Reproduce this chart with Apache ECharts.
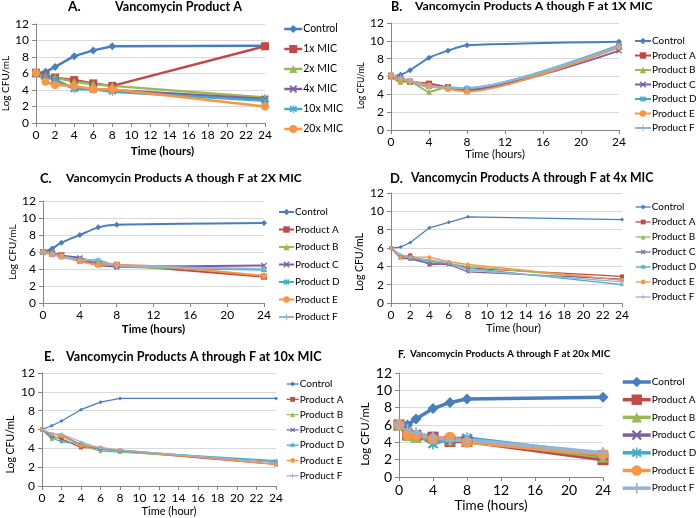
<!DOCTYPE html>
<html><head><meta charset="utf-8">
<script src="https://cdn.jsdelivr.net/npm/echarts@6/dist/echarts.min.js"></script>
<style>html,body{margin:0;padding:0;background:#fff}#c{width:696px;height:518px}</style>
</head><body><div id="c"></div>
<script>
// ---------- DATA ----------
const times = [0, 1, 2, 4, 6, 8, 24];
const namesA = ['Control', '1x MIC', '2x MIC', '4x MIC', '10x MIC', '20x MIC'];
const namesProducts = ['Control', 'Product A', 'Product B', 'Product C', 'Product D', 'Product E', 'Product F'];
const titleLetters = ['A.', 'B.', 'C.', 'D.', 'E.', 'F.'];
const titleTexts = [
  'Vancomycin Product A',
  'Vancomycin Products A though F at 1X MIC',
  'Vancomycin Products A though F at 2X MIC',
  'Vancomycin Products A through F at 4x MIC',
  'Vancomycin Products A through F at 10x MIC',
  'Vancomycin Products A through F at 20x MIC'
];
const xAxisTitles = ['Time (hours)', 'Time (hours)', 'Time (hours)', 'Time (hour)', 'Time (hour)', 'Time (hours)'];
const yAxisTitle = 'Log CFU/mL';

// Panel A: Product A at different MIC multiples
const aControl = [6.0, 6.2, 6.8, 8.1, 8.8, 9.3, 9.35];
const a1x  = [6.1, 5.8, 5.5, 5.2, 4.8, 4.5, 9.3];
const a2x  = [6.0, 5.8, 5.5, 5.0, 4.7, 4.5, 3.1];
const a4x  = [6.0, 5.7, 5.2, 4.2, 4.1, 4.0, 2.9];
const a10x = [6.0, 5.6, 5.3, 4.1, 4.1, 3.8, 2.7];
const a20x = [6.1, 5.0, 4.6, 4.5, 4.1, 4.1, 2.0];

// Panel B: 1X MIC
const bControl = [6.0, 6.2, 6.7, 8.1, 8.9, 9.5, 9.9];
const bProdA = [6.1, 5.7, 5.4, 5.2, 4.8, 4.4, 9.3];
const bProdB = [6.0, 5.4, 5.4, 4.3, 4.8, 4.4, 9.4];
const bProdC = [6.0, 5.8, 5.4, 4.9, 4.7, 4.5, 8.9];
const bProdD = [6.1, 5.7, 5.5, 5.0, 4.7, 4.7, 9.5];
const bProdE = [6.1, 5.7, 5.5, 5.0, 4.6, 4.3, 9.3];
const bProdF = [6.1, 5.9, 5.5, 4.8, 4.8, 4.7, 9.4];

// Panel C: 2X MIC
const cControl = [6.0, 6.4, 7.1, 8.0, 8.9, 9.2, 9.4];
const cProdA = [6.0, 5.8, 5.6, 5.0, 4.6, 4.5, 3.1];
const cProdB = [6.0, 5.9, 5.5, 5.2, 4.9, 4.3, 4.0];
const cProdC = [6.0, 5.9, 5.6, 5.3, 4.5, 4.3, 4.4];
const cProdD = [6.0, 5.8, 5.5, 5.1, 5.0, 4.4, 3.9];
const cProdE = [6.0, 5.7, 5.5, 4.9, 4.5, 4.5, 3.2];
const cProdF = [6.0, 5.8, 5.4, 5.1, 5.0, 4.4, 4.0];

// Panel D: 4x MIC
const dControl = [6.0, 6.1, 6.6, 8.2, 8.8, 9.4, 9.1];
const dProdA = [6.0, 5.0, 5.2, 4.2, 4.3, 3.8, 2.9];
const dProdB = [6.0, 5.1, 4.8, 4.4, 4.3, 4.0, 2.5];
const dProdC = [6.0, 4.9, 4.8, 4.3, 4.2, 3.4, 2.6];
const dProdD = [6.0, 5.1, 4.9, 4.6, 4.3, 3.8, 2.0];
const dProdE = [6.0, 5.0, 5.0, 5.0, 4.5, 4.2, 2.5];
const dProdF = [6.0, 5.3, 5.0, 4.7, 4.4, 3.6, 2.3];

// Panel E: 10x MIC
const eControl = [6.0, 6.4, 6.9, 8.1, 8.9, 9.3, 9.3];
const eProdA = [6.0, 5.3, 5.0, 4.1, 4.0, 3.7, 2.3];
const eProdB = [6.0, 5.0, 5.3, 4.3, 3.7, 3.6, 2.6];
const eProdC = [6.0, 5.5, 5.4, 4.4, 3.9, 3.8, 2.5];
const eProdD = [6.0, 5.1, 4.7, 4.5, 3.9, 3.7, 2.7];
const eProdE = [6.0, 5.5, 5.4, 4.3, 4.1, 3.8, 2.3];
const eProdF = [6.0, 5.5, 5.5, 4.7, 4.0, 3.8, 2.5];

// Panel F: 20x MIC
const fControl = [6.0, 6.0, 6.7, 7.9, 8.6, 9.0, 9.2];
const fProdA = [6.0, 4.9, 4.7, 4.6, 4.1, 4.1, 2.0];
const fProdB = [6.0, 4.8, 4.6, 4.5, 4.3, 4.2, 2.3];
const fProdC = [6.0, 5.0, 4.9, 4.6, 4.3, 4.4, 2.5];
const fProdD = [6.0, 5.2, 4.9, 3.8, 4.4, 4.5, 2.6];
const fProdE = [6.0, 4.9, 4.8, 4.4, 4.6, 4.0, 2.6];
const fProdF = [6.0, 5.5, 5.1, 4.6, 4.2, 4.3, 2.8];

const panelData = [
  [aControl, a1x, a2x, a4x, a10x, a20x],
  [bControl, bProdA, bProdB, bProdC, bProdD, bProdE, bProdF],
  [cControl, cProdA, cProdB, cProdC, cProdD, cProdE, cProdF],
  [dControl, dProdA, dProdB, dProdC, dProdD, dProdE, dProdF],
  [eControl, eProdA, eProdB, eProdC, eProdD, eProdE, eProdF],
  [fControl, fProdA, fProdB, fProdC, fProdD, fProdE, fProdF]
];
const panelNames = [namesA, namesProducts, namesProducts, namesProducts, namesProducts, namesProducts];

// ---------- STYLE / LAYOUT ----------
const colors = ['#4A7EBB', '#BE4B48', '#98B954', '#7D60A0', '#46AAC5', '#F79646', '#95B3D7'];
const xPath = 'path://M0,1.6 L1.6,0 L10,8.4 L8.4,10 Z M8.4,0 L10,1.6 L1.6,10 L0,8.4 Z';
const starPath = 'path://M0,1.6 L1.6,0 L10,8.4 L8.4,10 Z M8.4,0 L10,1.6 L1.6,10 L0,8.4 Z M4.3,-1 L5.7,-1 L5.7,11 L4.3,11 Z';
const plusPath = 'path://M4.2,0 L5.8,0 L5.8,10 L4.2,10 Z M0,4.2 L10,4.2 L10,5.8 L0,5.8 Z';
const symbols = ['diamond', 'rect', 'triangle', xPath, starPath, 'circle', plusPath];

const FONT = 'Lato, "Open Sans", sans-serif';
const layout = [
  { grid: { left: 36, top: 24, width: 229, height: 99 }, xInt: 2, lw: 2.5, ms: 8, smooth: false,
    tick: 12, xName: { gap: 22, pad: [0, 0, 0, 24], size: 11.5, bold: true },
    yName: { gap: 22, size: 10, shift: 10 },
    legend: { left: 283, top: 22, gap: 6, h: 10, w: 18, font: 10.5, lh: 14, lw: 2.5 },
    titleL: { left: 68, top: 0, size: 13.5 }, titleT: { left: 115, top: 0, size: 12.6 } },
  { grid: { left: 391, top: 23, width: 228, height: 107 }, xInt: 4, lw: 2, ms: 6, smooth: true,
    tick: 12, xName: { gap: 18, pad: [0, 20, 0, 0], size: 11, bold: false },
    yName: { gap: 24, size: 8.5, shift: 9 },
    legend: { left: 634, top: 35, gap: 2.5, h: 8, w: 16, font: 10, lh: 12, lw: 2 },
    titleL: { left: 391, top: 0, size: 12.5 }, titleT: { left: 415, top: 0, size: 12.2 } },
  { grid: { left: 43, top: 201, width: 221, height: 102 }, xInt: 4, lw: 2, ms: 6, smooth: true,
    tick: 12, xName: { gap: 20, pad: [0, 0, 0, 0], size: 11.5, bold: true },
    yName: { gap: 24, size: 10, shift: 0 },
    legend: { left: 278, top: 205.5, gap: 4.5, h: 8, w: 15, font: 10, lh: 13, lw: 2 },
    titleL: { left: 40, top: 172, size: 13 }, titleT: { left: 66, top: 172, size: 12.1 } },
  { grid: { left: 391, top: 193, width: 231, height: 110 }, xInt: 2, lw: 1.3, ms: 4, smooth: false,
    tick: 12, xName: { gap: 20, pad: [0, 0, 0, 14], size: 11, bold: false },
    yName: { gap: 26, size: 10.5, shift: 14 },
    legend: { left: 635, top: 201, gap: 3, h: 6, w: 15, font: 10, lh: 12, lw: 1.3 },
    titleL: { left: 390, top: 172, size: 13 }, titleT: { left: 411, top: 172, size: 12.3 } },
  { grid: { left: 42, top: 373, width: 234, height: 113 }, xInt: 2, lw: 1.3, ms: 4, smooth: false,
    tick: 12, xName: { gap: 20, pad: [0, 0, 0, 20], size: 11, bold: false },
    yName: { gap: 26, size: 10.5, shift: 15 },
    legend: { left: 286, top: 378, gap: 3.3, h: 6, w: 12, font: 10, lh: 12, lw: 1.3 },
    titleL: { left: 44, top: 350, size: 13 }, titleT: { left: 66, top: 350, size: 12.6 } },
  { grid: { left: 399, top: 373, width: 204, height: 104 }, xInt: 4, lw: 3.5, ms: 11, smooth: false,
    tick: 14, xName: { gap: 22, pad: [0, 20, 0, 0], size: 13.5, bold: false },
    yName: { gap: 28, size: 11.5, shift: 9 },
    legend: { left: 621, top: 375, gap: 3.7, h: 13, w: 28, font: 10, lh: 14, lw: 3.5 },
    titleL: { left: 398, top: 349, size: 10.5 }, titleT: { left: 410, top: 349, size: 9.9 } }
];

// ---------- BUILD ----------
const option = { animation: false, backgroundColor: '#fff', textStyle: { fontFamily: FONT },
  title: [], grid: [], xAxis: [], yAxis: [], legend: [], series: [] };

layout.forEach((L, p) => {
  option.grid.push(Object.assign({ containLabel: false }, L.grid));
  option.title.push({ text: titleLetters[p], left: L.titleL.left, top: L.titleL.top, padding: 0,
    textStyle: { fontFamily: FONT, fontSize: L.titleL.size, fontWeight: 'bold', color: '#000' } });
  option.title.push({ text: titleTexts[p], left: L.titleT.left, top: L.titleT.top, padding: 0,
    textStyle: { fontFamily: FONT, fontSize: L.titleT.size, fontWeight: 'bold', color: '#000' } });
  option.xAxis.push({ type: 'value', gridIndex: p, min: 0, max: 24, interval: L.xInt,
    name: xAxisTitles[p], nameLocation: 'middle', nameGap: L.xName.gap,
    nameTextStyle: { fontFamily: FONT, fontSize: L.xName.size, fontWeight: L.xName.bold ? 'bold' : 'normal', color: '#000', padding: L.xName.pad },
    axisLine: { lineStyle: { color: '#868686', width: 1 } },
    axisTick: { show: true, length: 4, lineStyle: { color: '#868686' } },
    axisLabel: { fontFamily: FONT, fontSize: L.tick, color: '#000', margin: 6 },
    splitLine: { show: false } });
  option.yAxis.push({ type: 'value', gridIndex: p, min: 0, max: 12, interval: 2,
    name: yAxisTitle, nameLocation: 'middle', nameGap: L.yName.gap, nameRotate: 90,
    nameTextStyle: { fontFamily: FONT, fontSize: L.yName.size, color: '#000', padding: [0, 2 * L.yName.shift, 0, 0] },
    axisLine: { show: true, lineStyle: { color: '#868686', width: 1 } },
    axisTick: { show: true, length: 4, lineStyle: { color: '#868686' } },
    axisLabel: { fontFamily: FONT, fontSize: L.tick, color: '#000', margin: 7 },
    splitLine: { show: true, lineStyle: { color: '#D9D9D9', width: 1 } } });
  const names = panelNames[p];
  option.legend.push({ orient: 'vertical', left: L.legend.left, top: L.legend.top, padding: 0,
    itemGap: L.legend.gap, itemWidth: L.legend.w, itemHeight: L.legend.h,
    lineStyle: { width: L.legend.lw }, selectedMode: false,
    textStyle: { fontFamily: FONT, fontSize: L.legend.font, lineHeight: L.legend.lh, color: '#000', padding: [0, 0, 0, -4] },
    data: names.slice() });
  panelData[p].forEach((vals, s) => {
    option.series.push({ type: 'line', name: names[s], xAxisIndex: p, yAxisIndex: p,
      data: times.map((t, i) => [t, vals[i]]),
      smooth: L.smooth ? 0.25 : false,
      symbol: symbols[s], symbolSize: L.ms, showSymbol: true,
      lineStyle: { color: colors[s], width: L.lw },
      itemStyle: { color: colors[s] } });
  });
});

const chart = echarts.init(document.getElementById('c'), null, { renderer: 'canvas' });
chart.setOption(option);
</script>
</body></html>
